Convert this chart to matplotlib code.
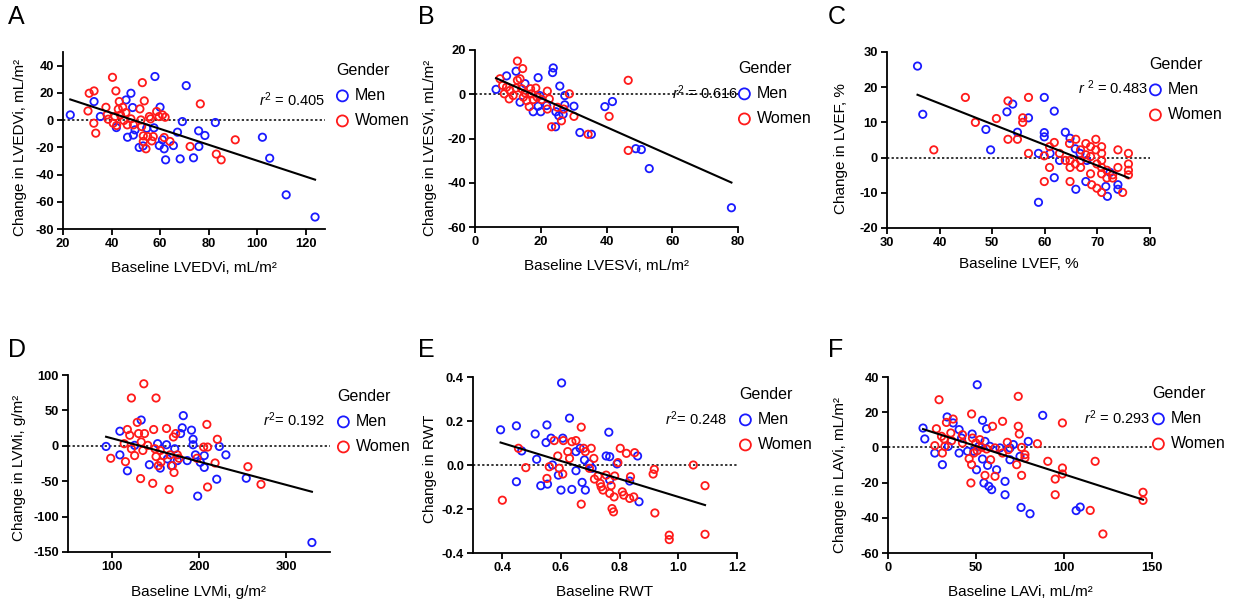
import numpy as np
import matplotlib.pyplot as plt
from matplotlib.ticker import FormatStrFormatter

plt.rcParams['font.family'] = ['Liberation Sans', 'DejaVu Sans']
plt.rcParams['axes.unicode_minus'] = False
plt.rcParams['mathtext.fontset'] = 'custom'
plt.rcParams['mathtext.it'] = 'Liberation Sans:italic'
plt.rcParams['mathtext.rm'] = 'Liberation Sans'

# ---- data ----
# A: LVEDVi
a_men_x = [23, 32.8, 35.4, 42, 46.6, 48, 46, 48.7, 49.7, 49, 51.4, 53, 54.5, 57.9, 57.5, 60, 59.7, 61,
           61.7, 62.3, 65.5, 67.2, 69.2, 68.3, 70.8, 73.8, 75.9, 76, 78.5, 82.8, 102.2, 105.2, 112, 123.9]
a_men_y = [3.8, 13.6, 2.6, -5.5, -12.6, 19.7, 14.8, 9.2, -7.2, -11, -20.1, -19, -6, 32, -5.7, 9.5, -18.7, -14.5,
           -21.1, -29.2, -18.7, -8.9, -1.1, -28.5, 25.3, -27.7, -7.9, -19.4, -11.3, -1.8, -12.6, -28, -54.9, -71.2]
a_women_x = [30.3, 30.8, 32.8, 32.7, 33.5, 37.7, 38.2, 38.6, 40.4, 40.7, 41.4, 41.8, 42.1, 42.8, 43.2, 43.7,
             44.6, 45.1, 45.9, 46.5, 48, 49, 51.7, 52.7, 52.1, 52.4, 53.1, 53.5, 53.1, 54.2, 54.9, 55.6, 56.1,
             56.6, 57.2, 58.6, 59.6, 61, 62.1, 61.7, 64.1, 72.4, 76.6, 83.2, 85.2, 91]
a_women_y = [6.7, 19.7, 21.4, -2.3, -9.6, 9.4, 3.8, 0.6, 31.4, -2.3, 2.6, 21.4, -4, 8, 13.6, 3.8,
             9.4, -0.3, 5.5, -3.5, 0.9, -3.5, 8.2, 27.5, 0.1, -4.7, -11.6, 14.1, -15.7, -21.1, -12.1, 2.6, 0.9,
             -15.3, -12.1, 6.3, 2.6, 3.8, 2.1, -12.8, -15.7, -19.4, 11.9, -25, -29.2, -14.5]
a_fit = (28.6, -0.584)   # intercept, slope
a_r2 = '$r^2$ = 0.405'

# B: LVESVi
b_men_x = [6.4, 9.6, 12.5, 15.2, 13.7, 17.7, 19.2, 19.2, 20, 19.7, 21.8, 23.8, 23.6, 24.6, 24.5, 25.5, 25.8,
           27.3, 27.3, 26.8, 30.1, 31.9, 35.4, 39.5, 41.8, 48.9, 50.6, 53, 78]
b_men_y = [2.2, 8.3, 10.4, 4.8, -3.6, -7.9, 7.5, -5.4, -7.9, -0.6, -5.1, 11.9, 9.8, -7.9, -14.7, -9.7, 3.7,
           -0.6, -4.8, -9, -5.4, -17.3, -18.1, -5.6, -3.3, -24.6, -25, -33.6, -51.3]
b_women_x = [7.6, 8.4, 8.9, 9.6, 10.4, 10.6, 11.6, 12.5, 12.9, 12.9, 13.7, 14.2, 14.5, 14.7, 15.2, 15.7,
             16.5, 16.9, 17.2, 17.7, 18.5, 18.9, 20.3, 22, 22, 22.6, 23.3, 25.1, 26.3, 27, 28.7, 30.1, 34.4,
             40.8, 46.6, 46.6]
b_women_y = [7, 4, 0.2, 3.2, -2.1, 1.7, -0.6, 2.8, 15, 6.3, 7, 2.5, 11.6, -1.3, 0.6, -2.9,
             -5.6, 2.5, 0.2, -2.4, 2.8, -1.3, -2.4, 1.4, -6.7, -2.1, -14.7, -5.9, -12, -6.7, 0.2, -10, -18.1,
             -10, 6.3, -25.4]
b_fit = (11.5, -0.659)
b_r2 = '$r^2$ = 0.616'

# C: LVEF
c_men_x = [35.8, 36.8, 48.8, 49.7, 52.8, 53.9, 54.8, 56.9, 58.8, 58.8, 59.9, 59.9, 59.9, 61, 61.8, 61.8,
           62.8, 63.9, 64.8, 65.8, 65.9, 66.7, 68, 67.8, 71.6, 71.9, 72.4, 73.9, 73.9]
c_men_y = [26, 12.3, 8, 2.2, 13, 15.2, 7.2, 11.3, 1.2, -12.7, 17.1, 7.1, 5.9, 1.2, 13.2, -5.7,
           -0.8, 7.2, 5.5, 2.5, -9, 1.2, -0.8, -6.8, -8.2, -11, -4.2, -7.7, -9]
c_women_x = [38.9, 44.9, 46.8, 50.8, 53, 53, 54.8, 55.8, 55.8, 56.9, 56.9, 59.9, 59.9, 60.9, 60.9, 61.8,
             62.8, 63.9, 64.7, 64.8, 64.8, 64.8, 65.9, 65.8, 66.8, 66.8, 66.8, 67.8, 67.8, 68.7, 68.7, 68.7,
             68.9, 69.7, 69.7, 69.9, 69.9, 70.8, 70.8, 70.8, 70.8, 70.8, 70.8, 71.8, 71.8, 72.9, 72.9, 73.9,
             73.9, 74.8, 75.9, 75.9, 75.9, 75.9]
c_women_y = [2.2, 17.1, 10, 11.1, 16.1, 5.2, 5.2, 11.3, 10, 17.1, 1.2, 0.5, -6.8, 3.1, -2.8, 4.3,
             1.2, -0.8, 4, -0.8, -2.8, -6.8, 5.2, -1.8, 2.2, -0.8, -2.8, 4, 0.8, 3.1, 0.3, -4.6,
             -7.7, 5.2, 2.2, -1.8, -8.7, 3.1, 1.2, -0.8, -2.8, -4.6, -9.9, -3.6, -5.8, -4.9, -5.8, 2.2,
             -2.8, -9.9, 1.2, -1.8, -3.6, -4.9]
c_fit = (38.9, -0.588)
c_r2 = '$r$ $^2$ = 0.483'

# D: LVMi
d_men_x = [93.6, 109.4, 109.4, 118, 126.3, 133.8, 143.2, 152.6, 155.6, 162.8, 163.9, 168.4, 172.2, 175.2,
           178.9, 180.8, 182, 186.5, 191.4, 193.2, 193.2, 195.9, 198.5, 201.5, 206, 206, 223.3, 230.8, 220.3,
           254.1, 329.3]
d_men_y = [-0.9, 20.6, -12.8, -35.3, 0.6, 36.4, -26.7, 3, -31.5, 1.5, -18.5, -28.1, -4.2, -20.9,
           17.3, 25.4, 42.6, -20.9, 22.1, 9.2, 1.5, -12.8, -71.1, -23.3, -13.8, -30.5, -0.9, -12.8, -47.2,
           -45.8, -136.6]
d_women_x = [98.9, 114.3, 115.8, 118, 122.6, 120.7, 122.6, 126.3, 129.3, 130.8, 133.1, 133.8, 135.7, 136.8,
             137.6, 141.4, 147, 148.1, 150.8, 149.6, 150.8, 153.4, 155.6, 156.4, 159.4, 162.8, 165.8, 166.9,
             169.5, 170.7, 171.4, 173.3, 175.2, 177.1, 197.7, 205.3, 209.8, 209, 209.8, 218.4, 221, 256, 271]
d_women_y = [-17.6, 3, -22.4, 23, 67.5, 14.9, -4.2, -13.8, 33.1, 17.3, -46.3, 5.4, -6.6, 87.6,
             17.3, 0.6, -53, 23, 67.5, -4.2, -15.2, -28.1, -6.6, -23.3, -13.8, 24.5, -61.6, -12.8,
             -28.1, 12.5, -37.7, 17.3, -12.8, -17.6, -17.6, -1.8, -1.8, 30.2, -58.2, -24.3, 9.2, -29.5, -54.4]
d_fit = (43.6, -0.3295)
d_r2 = '$r^2$= 0.192'

# E: RWT
e_men_x = [0.394, 0.448, 0.448, 0.466, 0.512, 0.517, 0.531, 0.552, 0.549, 0.554, 0.566, 0.571, 0.591, 0.6,
           0.602, 0.606, 0.629, 0.637, 0.651, 0.651, 0.665, 0.672, 0.68, 0.683, 0.697, 0.706, 0.754, 0.763,
           0.766, 0.766, 0.791, 0.834, 0.861, 0.866]
e_men_y = [0.16, 0.178, -0.076, 0.064, 0.141, 0.026, -0.094, 0.182, 0.102, -0.087, 0.122, 0, -0.046, -0.114,
           0.373, 0.122, 0.213, -0.111, 0.061, -0.026, 0.076, -0.079, 0.023, -0.114, 0.005, -0.015, 0.041, 0.149,
           0.038, -0.068, 0.005, -0.073, 0.041, -0.167]
e_women_x = [0.4, 0.455, 0.48, 0.552, 0.56, 0.577, 0.589, 0.594, 0.606, 0.608, 0.623, 0.629, 0.637, 0.651,
             0.669, 0.669, 0.677, 0.683, 0.697, 0.703, 0.712, 0.714, 0.726, 0.734, 0.737, 0.743, 0.754, 0.766,
             0.771, 0.774, 0.779, 0.781, 0.783, 0.794, 0.802, 0.809, 0.814, 0.823, 0.834, 0.837, 0.848, 0.851,
             0.914, 0.918, 0.92, 0.969, 0.969, 1.051, 1.091, 1.091]
e_women_y = [-0.16, 0.076, -0.012, -0.061, -0.008, 0.111, 0.041, -0.015, -0.041, 0.111, 0.061, 0.03, 0.106, 0.111,
             0.172, -0.178, 0.076, 0.061, -0.015, 0.076, 0.03, -0.064, -0.05, -0.084, -0.099, -0.114, -0.046, -0.129,
             -0.094, -0.198, -0.213, -0.145, -0.05, 0.011, 0.076, -0.122, -0.137, 0.053, -0.152, -0.053, -0.145, 0.056,
             -0.041, -0.02, -0.218, -0.319, -0.339, 0, -0.094, -0.315]
e_fit = (0.263, -0.408)
e_r2 = '$r^2$= 0.248'

# F: LAVi
f_men_x = [19.9, 20.9, 26.6, 30.9, 33.6, 34.2, 37, 40.4, 40.4, 41.8, 45.2, 47.8, 48.8, 50.7, 50.3, 51.6,
           53.7, 53.7, 54.5, 55.1, 56, 56.6, 57.3, 58.9, 57.9, 61.7, 63.6, 66.5, 66.5, 69.3, 69.3, 71.2, 75,
           75.6, 79.7, 80.7, 87.9, 106.9, 109.2]
f_men_y = [11, 4.8, -3.2, -9.8, 17.3, 0.6, 13.9, 10.1, -3.2, 5.3, -2.2, 7.6, -2.2, 35.6, -12.7, 0.6,
           15.4, -6.6, -20.2, 3.4, 10.6, -10.2, -22.1, -24, 0.6, -12.7, -0.3, -19.3, -26.9, -0.3, -7, 1.6, -5.1,
           -34.1, 3.4, -37.7, 18.2, -35.9, -33.9]
f_women_x = [26.6, 27.5, 29, 30.4, 30.9, 31.9, 32.3, 33.2, 35.7, 36.1, 37, 42.3, 42.3, 46.1, 47.5, 47.5,
             47.1, 48, 48.8, 49.9, 50.7, 52.2, 53.2, 56, 55.1, 58.3, 59.4, 60.8, 60.8, 65.1, 65.1, 67.8, 68.4,
             74, 74, 74.6, 73.1, 75.9, 75.9, 77.8, 77.8, 84.9, 90.8, 95, 95, 99.1, 99.1, 99.1, 114.9, 117.7,
             122.1, 144.9, 144.9]
f_women_y = [1, 10.6, 27.1, 6.3, -3.2, 4.8, 0.6, 14.2, 8.2, 3.8, 16.1, 7.2, 2.5, -6.4, 19, -9.8,
             -20.2, 5.3, -3.2, 2.5, -1.9, 4.4, 0, -0.9, -15.9, -7, 12, -16.4, -0.3, 14.8, -3.2, 2.9, -1.3,
             29, 12, 7.6, -9.8, 0, -15.9, -4.1, -6, 2.1, -7.9, -18, -26.9, 13.9, -11.7, -15.1, -35.8, -7.9,
             -49.2, -25.5, -30.1]
f_fit = (16.8, -0.321)
f_r2 = '$r^2$ = 0.293'

letters = ['A', 'B', 'C', 'D', 'E', 'F']
x_labels = ['Baseline LVEDVi, mL/m²', 'Baseline LVESVi, mL/m²', 'Baseline LVEF, %',
            'Baseline LVMi, g/m²', 'Baseline RWT', 'Baseline LAVi, mL/m²']
y_labels = ['Change in LVEDVi, mL/m²', 'Change in LVESVi, mL/m²', 'Change in LVEF, %',
            'Change in LVMi, g/m²', 'Change in RWT', 'Change in LAVi, mL/m²']
x_ticks = [[20, 40, 60, 80, 100, 120], [0, 20, 40, 60, 80], [30, 40, 50, 60, 70, 80],
           [100, 200, 300], [0.4, 0.6, 0.8, 1.0, 1.2], [0, 50, 100, 150]]
y_ticks = [[-80, -60, -40, -20, 0, 20, 40], [-60, -40, -20, 0, 20], [-20, -10, 0, 10, 20, 30],
           [-150, -100, -50, 0, 50, 100], [-0.4, -0.2, 0.0, 0.2, 0.4], [-60, -40, -20, 0, 20, 40]]
x_lims = [(20, 128), (0, 80), (30, 80), (50, 350), (0.3, 1.2), (0, 150)]
y_lims = [(-80, 50), (-60, 20), (-20, 30), (-150, 100), (-0.4, 0.4), (-60, 40)]

men = [(a_men_x, a_men_y), (b_men_x, b_men_y), (c_men_x, c_men_y),
       (d_men_x, d_men_y), (e_men_x, e_men_y), (f_men_x, f_men_y)]
women = [(a_women_x, a_women_y), (b_women_x, b_women_y), (c_women_x, c_women_y),
         (d_women_x, d_women_y), (e_women_x, e_women_y), (f_women_x, f_women_y)]
fits = [a_fit, b_fit, c_fit, d_fit, e_fit, f_fit]
r2_texts = [a_r2, b_r2, c_r2, d_r2, e_r2, f_r2]

# ---- layout in pixels (left, top, right, bottom) ----
W, H = 1234, 606
boxes = [(63, 52, 325, 229), (475, 50, 738, 227), (887, 52, 1150, 228),
         (68, 375, 330, 552), (473, 377, 737, 553), (888, 377, 1152, 553)]
legend_pos = [(336, 63), (738, 61), (1149, 57), (337, 389), (739, 387), (1152, 386)]
r2_pos = [(325, 100), (738, 93), (1148, 88), (325, 420), (727, 419), (1150, 418)]
letter_pos = [(8, 17), (418, 17), (828, 17), (8, 350), (418, 350), (828, 350)]
ylab_x = [-0.137, -0.144, -0.148, -0.16, -0.136, -0.155]
ylab_y = [0.46, 0.449, 0.449, 0.477, 0.477, 0.443]
xlab_y = [-0.181, -0.181, -0.165, -0.186, -0.182, -0.182]

fig = plt.figure(figsize=(W / 100, H / 100), dpi=100)

for i in range(6):
    l, t, r, b = boxes[i]
    ax = fig.add_axes([l / W, 1 - b / H, (r - l) / W, (b - t) / H])

    mx, my = men[i]
    wx, wy = women[i]
    h_men = ax.scatter(mx, my, s=28, facecolors='none', edgecolors='#1a1aff', linewidths=1.3, zorder=3)
    h_women = ax.scatter(wx, wy, s=28, facecolors='none', edgecolors='#ff1a1a', linewidths=1.3, zorder=3)

    # regression line over the range of the data
    all_x = np.array(list(mx) + list(wx))
    xs = np.array([all_x.min(), all_x.max()])
    b0, b1 = fits[i]
    ax.plot(xs, b0 + b1 * xs, color='black', lw=1.5, zorder=4)

    # dotted zero line
    ax.axhline(0, color='black', lw=1.1, ls=(0, (1.5, 1.5)), zorder=2)

    ax.set_xlim(x_lims[i])
    ax.set_ylim(y_lims[i])
    ax.set_xticks(x_ticks[i])
    ax.set_yticks(y_ticks[i])
    if i == 4:
        ax.xaxis.set_major_formatter(FormatStrFormatter('%.1f'))
        ax.yaxis.set_major_formatter(FormatStrFormatter('%.1f'))

    for side in ['top', 'right']:
        ax.spines[side].set_visible(False)
    for side in ['left', 'bottom']:
        ax.spines[side].set_linewidth(1.3)
    ax.tick_params(length=4, width=1.3, labelsize=9.3, pad=2.5)
    for lab in ax.get_xticklabels() + ax.get_yticklabels():
        lab.set_fontweight('bold')

    ax.set_xlabel(x_labels[i], fontsize=11)
    ax.set_ylabel(y_labels[i], fontsize=11)
    ax.xaxis.set_label_coords(0.5, xlab_y[i])
    ax.yaxis.set_label_coords(ylab_x[i], ylab_y[i])

    lx, ly = legend_pos[i]
    ax.legend([h_men, h_women], ['Men', 'Women'], title='Gender', loc='upper left',
              bbox_to_anchor=(lx / W, 1 - ly / H), bbox_transform=fig.transFigure,
              frameon=False, fontsize=11.5, title_fontsize=11.5, markerscale=1.5,
              handlelength=0.8, handletextpad=0.4, labelspacing=0.63, borderpad=0,
              borderaxespad=0, alignment='left')

    rx, ry = r2_pos[i]
    fig.text(rx / W, 1 - ry / H, r2_texts[i], fontsize=10.5, ha='right', va='center')

    px, py = letter_pos[i]
    fig.text(px / W, 1 - py / H, letters[i], fontsize=18, ha='left', va='center')

plt.savefig('out.png', dpi=100)
